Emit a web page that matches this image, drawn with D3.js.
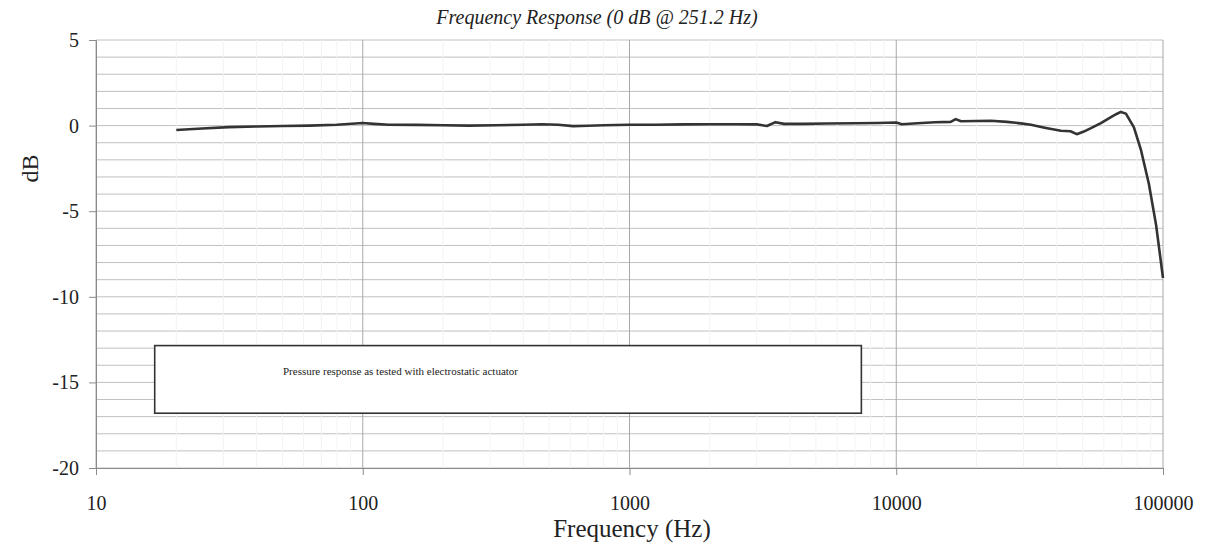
<!DOCTYPE html>
<html>
  <head>
    <meta charset="utf-8" />
    <script src="https://d3js.org/d3.v7.min.js"></script>
    <style>
      body { margin: 0; background: #fff; }
      text { font-family: "Liberation Serif", "Times New Roman", serif; fill: #222; }
    </style>
  </head>
  <body>
    <div id="my_dataviz"></div>
    <script>
      // data
      var freqs = [20, 25, 31.5, 40, 50, 63, 80, 100, 110, 125, 160, 200, 250, 315, 400, 470, 540, 615, 700,
        800, 1000, 1250, 1600, 2000, 2500, 3000, 3275, 3525, 3800, 4500, 5500, 7000, 8500, 10000, 10500,
        12000, 14000, 16000, 16700, 17500, 20000, 22600, 26000, 29300, 32000, 36000, 41400, 45000, 47500,
        50500, 53700, 58500, 63800, 67000, 69500, 72600, 77800, 82600, 88500, 94200, 100000];
      var levels = [-0.26, -0.17, -0.09, -0.05, -0.02, 0.0, 0.05, 0.15, 0.1, 0.05, 0.04, 0.02, 0.0, 0.02, 0.05,
        0.08, 0.05, -0.03, -0.01, 0.02, 0.05, 0.05, 0.07, 0.08, 0.08, 0.07, -0.02, 0.2, 0.1, 0.1, 0.12, 0.14,
        0.15, 0.18, 0.08, 0.14, 0.2, 0.22, 0.38, 0.25, 0.27, 0.28, 0.22, 0.13, 0.05, -0.12, -0.3, -0.33, -0.5,
        -0.35, -0.15, 0.15, 0.5, 0.68, 0.8, 0.7, -0.1, -1.4, -3.4, -5.8, -8.9];
      var xTicks = [10, 100, 1000, 10000, 100000];
      var yTicks = [5, 0, -5, -10, -15, -20];
      var noteText = "Pressure response as tested with electrostatic actuator";
      var noteFreq = [16.6, 7400]; // box corners in data units
      var noteDb = [-12.85, -16.8];

      var W = 1208, H = 547;
      var margin = { top: 40, right: 45, bottom: 79, left: 96 };

      var svg = d3.select("#my_dataviz").append("svg")
        .attr("width", W).attr("height", H);

      var x = d3.scaleLog().domain([10, 100000]).range([margin.left, W - margin.right]);
      var y = d3.scaleLinear().domain([-20, 5]).range([H - margin.bottom, margin.top]);

      // grid
      var grid = svg.append("g");
      d3.range(-20, 6, 1).forEach(function (v) {
        grid.append("line")
          .attr("x1", x(10)).attr("x2", x(100000))
          .attr("y1", y(v)).attr("y2", y(v))
          .attr("stroke", "#c0c0c0").attr("stroke-width", 1);
      });
      var minors = [];
      xTicks.slice(0, -1).forEach(function (d) {
        for (var k = 2; k <= 9; k++) minors.push(d * k);
      });
      grid.selectAll(".minor").data(minors).enter().append("line")
        .attr("x1", function (d) { return x(d); }).attr("x2", function (d) { return x(d); })
        .attr("y1", y(5)).attr("y2", y(-20))
        .attr("stroke", "#f3f3f3").attr("stroke-width", 1);
      grid.selectAll(".major").data(xTicks).enter().append("line")
        .attr("x1", function (d) { return x(d); }).attr("x2", function (d) { return x(d); })
        .attr("y1", y(5)).attr("y2", y(-20))
        .attr("stroke", "#a8a8a8").attr("stroke-width", 1);

      // axes
      var xAxis = svg.append("g")
        .attr("transform", "translate(0," + y(-20) + ")")
        .call(d3.axisBottom(x).tickValues(xTicks).tickFormat(d3.format("d")).tickSize(7).tickPadding(17));
      var yAxis = svg.append("g")
        .attr("transform", "translate(" + x(10) + ",0)")
        .call(d3.axisLeft(y).tickValues(yTicks).tickSize(7).tickPadding(10));
      [xAxis, yAxis].forEach(function (a) {
        a.select(".domain").attr("stroke", "#8a8a8a");
        a.selectAll(".tick line").attr("stroke", "#8a8a8a");
        a.selectAll(".tick text").style("font-family", "Liberation Serif").style("font-size", "20px").attr("fill", "#222");
      });
      xAxis.selectAll(".tick text").attr("dy", "0.9em");
      yAxis.selectAll(".tick text").text(function (d) { return d; });

      // annotation box
      svg.append("rect")
        .attr("x", x(noteFreq[0])).attr("y", y(noteDb[0]))
        .attr("width", x(noteFreq[1]) - x(noteFreq[0]))
        .attr("height", y(noteDb[1]) - y(noteDb[0]))
        .attr("fill", "#fff").attr("stroke", "#333").attr("stroke-width", 1.6);
      svg.append("text")
        .attr("x", 283).attr("y", y(noteDb[0]) + 29)
        .attr("textLength", 235).attr("lengthAdjust", "spacingAndGlyphs")
        .style("font-size", "11px")
        .text(noteText);

      // response curve
      var pts = freqs.map(function (f, i) { return [f, levels[i]]; });
      svg.append("path")
        .datum(pts)
        .attr("fill", "none").attr("stroke", "#333").attr("stroke-width", 2.6)
        .attr("stroke-linejoin", "round")
        .attr("d", d3.line()
          .x(function (d) { return x(d[0]); })
          .y(function (d) { return y(d[1]); }));

      // titles
      svg.append("text")
        .attr("x", 597).attr("y", 24).attr("text-anchor", "middle")
        .style("font-size", "20px").style("font-style", "italic")
        .text("Frequency Response (0 dB @ 251.2 Hz)");
      svg.append("text")
        .attr("x", 632).attr("y", 537).attr("text-anchor", "middle")
        .style("font-size", "25px")
        .text("Frequency (Hz)");
      svg.append("text")
        .attr("transform", "translate(38," + y(-2.5) + ") rotate(-90)")
        .attr("text-anchor", "middle")
        .style("font-size", "24px")
        .text("dB");
    </script>
  </body>
</html>
